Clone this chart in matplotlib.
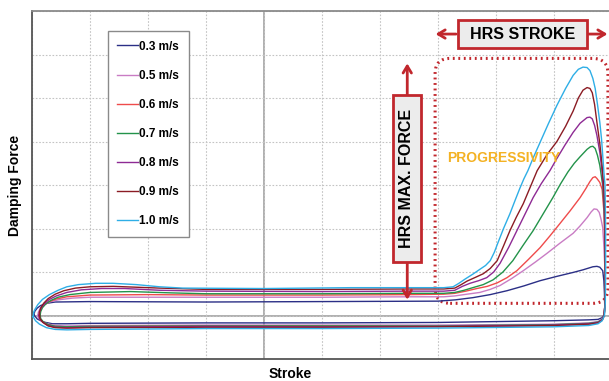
import matplotlib
matplotlib.use("Agg")
import matplotlib.pyplot as plt
from matplotlib.patches import Rectangle, FancyBboxPatch

plt.rcParams['font.family'] = ['Liberation Sans', 'DejaVu Sans']

# (stroke, force) loops, in grid units
loop_03 = [(-4.97, 0.02), (-4.95, 0.10), (-4.91, 0.17), (-4.85, 0.23), (-4.75, 0.28), (-4.6, 0.31), (-4.0, 0.32),
           (-2.0, 0.31), (0.0, 0.32), (2.0, 0.33), (2.30, 0.36), (2.60, 0.41), (2.90, 0.48), (3.19, 0.57),
           (3.48, 0.68), (3.76, 0.80), (4.05, 0.90), (4.33, 0.99), (4.50, 1.05), (4.67, 1.12), (4.74, 1.13),
           (4.79, 1.11), (4.84, 1.03), (4.86, 0.8), (4.87, 0.5), (4.875, 0.2), (4.865, 0.02), (4.83, -0.05),
           (4.76, -0.09), (4.6, -0.10), (4.0, -0.12), (2.0, -0.16), (0.0, -0.17), (-2.0, -0.17), (-4.0, -0.18),
           (-4.4, -0.19), (-4.65, -0.19), (-4.8, -0.15), (-4.91, -0.08), (-4.97, 0.02)]

loop_05 = [(-4.90, 0.0), (-4.89, 0.08), (-4.86, 0.16), (-4.80, 0.24), (-4.70, 0.31), (-4.55, 0.36), (-4.30, 0.40),
           (-4.0, 0.42), (-2.0, 0.42), (0.0, 0.42), (1.5, 0.43), (2.10, 0.43), (2.29, 0.45), (2.50, 0.49),
           (2.72, 0.53), (2.90, 0.60), (3.07, 0.69), (3.27, 0.85), (3.47, 1.03), (3.68, 1.23), (3.88, 1.43),
           (4.10, 1.66), (4.33, 1.89), (4.45, 2.06), (4.57, 2.25), (4.64, 2.38), (4.69, 2.45), (4.74, 2.44),
           (4.78, 2.37), (4.81, 2.22), (4.84, 2.02), (4.86, 1.6), (4.88, 1.0), (4.88, 0.3), (4.865, 0.0),
           (4.83, -0.08), (4.76, -0.14), (4.6, -0.17), (4.0, -0.2), (2.0, -0.22), (0.0, -0.22), (-2.0, -0.22),
           (-4.0, -0.23), (-4.4, -0.24), (-4.6, -0.23), (-4.74, -0.19), (-4.84, -0.12), (-4.89, -0.06), (-4.90, 0.0)]

loop_06 = [(-4.88, 0.0), (-4.87, 0.09), (-4.84, 0.17), (-4.78, 0.25), (-4.70, 0.32), (-4.58, 0.38), (-4.40, 0.43),
           (-4.0, 0.47), (-3.0, 0.48), (-2.0, 0.47), (0.0, 0.47), (1.5, 0.48), (2.10, 0.49), (2.29, 0.51),
           (2.48, 0.56), (2.67, 0.62), (2.85, 0.67), (3.02, 0.75), (3.19, 0.87), (3.36, 1.03), (3.56, 1.29),
           (3.76, 1.56), (3.93, 1.83), (4.10, 2.11), (4.28, 2.41), (4.45, 2.71), (4.55, 2.92), (4.62, 3.08),
           (4.67, 3.17), (4.71, 3.19), (4.74, 3.15), (4.79, 3.06), (4.83, 2.90), (4.86, 2.4), (4.88, 1.5),
           (4.885, 0.8), (4.88, 0.3), (4.865, 0.0), (4.83, -0.11), (4.76, -0.17), (4.6, -0.2), (4.0, -0.23),
           (2.0, -0.25), (0.0, -0.24), (-2.0, -0.24), (-4.0, -0.25), (-4.4, -0.26), (-4.6, -0.25), (-4.73, -0.21),
           (-4.82, -0.14), (-4.87, -0.07), (-4.88, 0.0)]

loop_07 = [(-4.86, 0.0), (-4.85, 0.09), (-4.82, 0.18), (-4.76, 0.27), (-4.67, 0.35), (-4.55, 0.42), (-4.35, 0.48),
           (-4.0, 0.53), (-3.3, 0.55), (-2.6, 0.52), (-2.0, 0.50), (0.0, 0.50), (1.5, 0.51), (2.10, 0.51),
           (2.29, 0.53), (2.45, 0.58), (2.60, 0.64), (2.78, 0.71), (2.95, 0.82), (3.12, 1.00), (3.29, 1.26),
           (3.46, 1.60), (3.64, 1.95), (3.81, 2.33), (3.98, 2.71), (4.11, 3.02), (4.24, 3.30), (4.35, 3.50),
           (4.45, 3.65), (4.57, 3.82), (4.63, 3.88), (4.67, 3.89), (4.71, 3.84), (4.75, 3.68), (4.79, 3.45),
           (4.84, 2.99), (4.87, 2.3), (4.885, 1.0), (4.88, 0.3), (4.865, 0.0), (4.83, -0.09), (4.76, -0.15),
           (4.6, -0.18), (4.0, -0.21), (2.0, -0.24), (0.0, -0.24), (-2.0, -0.24), (-4.0, -0.25), (-4.4, -0.26),
           (-4.6, -0.25), (-4.72, -0.21), (-4.81, -0.14), (-4.85, -0.07), (-4.86, 0.0)]

loop_08 = [(-4.88, 0.0), (-4.87, 0.09), (-4.84, 0.18), (-4.78, 0.28), (-4.70, 0.37), (-4.58, 0.45), (-4.40, 0.53),
           (-4.15, 0.59), (-3.8, 0.62), (-3.4, 0.62), (-2.8, 0.58), (-2.0, 0.56), (0.0, 0.55), (1.5, 0.56),
           (2.10, 0.56), (2.29, 0.58), (2.42, 0.67), (2.55, 0.74), (2.70, 0.80), (2.84, 0.87), (2.96, 1.00),
           (3.07, 1.20), (3.22, 1.57), (3.36, 1.95), (3.50, 2.33), (3.64, 2.71), (3.78, 3.03), (3.93, 3.33),
           (4.05, 3.61), (4.19, 3.92), (4.33, 4.21), (4.45, 4.42), (4.57, 4.55), (4.62, 4.56), (4.66, 4.52),
           (4.70, 4.37), (4.74, 4.14), (4.79, 3.75), (4.83, 3.29), (4.86, 2.70), (4.88, 1.8), (4.885, 1.0),
           (4.88, 0.3), (4.865, 0.0), (4.83, -0.10), (4.76, -0.16), (4.6, -0.19), (4.0, -0.22), (2.0, -0.25),
           (0.0, -0.26), (-2.0, -0.25), (-4.0, -0.27), (-4.4, -0.28), (-4.6, -0.27), (-4.73, -0.23), (-4.82, -0.15),
           (-4.87, -0.07), (-4.88, 0.0)]

loop_09 = [(-4.87, 0.0), (-4.87, 0.08), (-4.85, 0.17), (-4.80, 0.28), (-4.72, 0.39), (-4.60, 0.49), (-4.45, 0.57),
           (-4.25, 0.63), (-4.0, 0.66), (-3.6, 0.67), (-3.2, 0.65), (-2.8, 0.63), (-2.0, 0.60), (0.0, 0.60),
           (1.5, 0.61), (2.10, 0.61), (2.29, 0.63), (2.40, 0.71), (2.50, 0.79), (2.65, 0.88), (2.78, 0.96),
           (2.90, 1.08), (3.02, 1.26), (3.13, 1.60), (3.24, 1.95), (3.35, 2.26), (3.47, 2.57), (3.59, 2.95),
           (3.71, 3.33), (3.88, 3.70), (4.05, 4.00), (4.20, 4.35), (4.33, 4.70), (4.42, 5.00), (4.50, 5.18),
           (4.57, 5.24), (4.62, 5.22), (4.66, 5.12), (4.70, 4.85), (4.74, 4.44), (4.79, 3.95), (4.83, 3.45),
           (4.86, 2.90), (4.88, 2.2), (4.885, 1.0), (4.88, 0.3), (4.865, 0.0), (4.83, -0.11), (4.76, -0.17),
           (4.6, -0.2), (4.0, -0.23), (2.0, -0.26), (0.0, -0.27), (-2.0, -0.27), (-4.0, -0.28), (-4.4, -0.29),
           (-4.6, -0.28), (-4.72, -0.24), (-4.81, -0.16), (-4.86, -0.08), (-4.87, 0.0)]

loop_10 = [(-4.98, -0.03), (-4.97, 0.08), (-4.95, 0.14), (-4.90, 0.25), (-4.82, 0.37), (-4.70, 0.48), (-4.55, 0.58),
           (-4.40, 0.66), (-4.20, 0.71), (-3.90, 0.74), (-3.60, 0.74), (-3.20, 0.71), (-2.80, 0.66), (-2.40, 0.63),
           (-1.0, 0.62), (0.5, 0.64), (1.5, 0.64), (2.10, 0.64), (2.26, 0.66), (2.36, 0.74), (2.47, 0.84),
           (2.60, 0.95), (2.72, 1.06), (2.82, 1.15), (2.90, 1.26), (2.97, 1.45), (3.03, 1.66), (3.13, 2.00),
           (3.24, 2.34), (3.33, 2.65), (3.41, 2.92), (3.48, 3.14), (3.55, 3.33), (3.65, 3.65), (3.76, 3.98),
           (3.90, 4.40), (4.05, 4.83), (4.20, 5.22), (4.33, 5.52), (4.42, 5.66), (4.50, 5.71), (4.57, 5.70),
           (4.62, 5.63), (4.67, 5.45), (4.71, 5.22), (4.75, 4.85), (4.79, 4.44), (4.82, 4.05), (4.84, 3.68),
           (4.86, 3.30), (4.88, 2.99), (4.89, 2.0), (4.89, 1.0), (4.885, 0.3), (4.87, 0.0), (4.83, -0.12),
           (4.76, -0.19), (4.6, -0.23), (4.0, -0.26), (2.0, -0.29), (0.0, -0.30), (-2.0, -0.30), (-4.0, -0.32),
           (-4.4, -0.33), (-4.6, -0.32), (-4.75, -0.28), (-4.87, -0.20), (-4.94, -0.12), (-4.98, -0.03)]

labels = ['0.3 m/s', '0.5 m/s', '0.6 m/s', '0.7 m/s', '0.8 m/s', '0.9 m/s', '1.0 m/s']
colors = ['#2b2f86', '#c97cc4', '#ef4b4b', '#23934a', '#8e2a94', '#8b1c24', '#2eaee6']
loops = [loop_03, loop_05, loop_06, loop_07, loop_08, loop_09, loop_10]

red = '#c1272d'

fig = plt.figure(figsize=(6.09, 3.81), dpi=100)
ax = fig.add_axes([32 / 609, 1 - 359 / 381, 580 / 609, 348 / 381])
ax.set_xlim(-5, 5)
ax.set_ylim(-1, 7)
ax.set_xticks(range(-5, 6))
ax.set_yticks(range(-1, 8))
ax.tick_params(length=0, labelbottom=False, labelleft=False)
ax.grid(True, color='#c4c4c4', linestyle=(0, (1.5, 1.5)), linewidth=0.8)
ax.axvline(-1, color='#9a9a9a', lw=1.1, zorder=1)
ax.axhline(0, color='#9a9a9a', lw=1.1, zorder=1)
for s in ax.spines.values():
    s.set_color('#555555')
    s.set_linewidth(1.3)
ax.spines['top'].set_color('#8a8a8a')

for loop, c, lab in zip(loops, colors, labels):
    st = [p[0] for p in loop]
    fo = [p[1] for p in loop]
    ax.plot(st, fo, color=c, lw=1.0, label=lab, zorder=3)

leg = ax.legend(loc='upper left', bbox_to_anchor=(0.131, 0.942), fancybox=False, edgecolor='#8a8a8a',
                framealpha=1, prop={'weight': 'bold', 'size': 8.5}, labelspacing=1.45, handlelength=1.75,
                handletextpad=0.1, borderpad=0.8, borderaxespad=0)
leg.get_frame().set_linewidth(1.0)

# dotted region
box = FancyBboxPatch((1.95, 0.28), 2.98, 5.63, boxstyle='round,pad=0,rounding_size=0.26',
                     mutation_aspect=58 / 43.5, fill=False, edgecolor=red, lw=2.2,
                     linestyle=(0, (0.6, 1.2)), zorder=2, clip_on=False)
ax.add_patch(box)

# HRS STROKE
ax.annotate('', xy=(1.91, 6.47), xytext=(2.36, 6.47),
            arrowprops=dict(arrowstyle='->,head_length=0.5,head_width=0.3', color=red, lw=2), zorder=5)
ax.annotate('', xy=(4.97, 6.47), xytext=(4.55, 6.47), annotation_clip=False,
            arrowprops=dict(arrowstyle='->,head_length=0.5,head_width=0.3', color=red, lw=2), zorder=5)
ax.add_patch(Rectangle((2.34, 6.14), 2.23, 0.66, facecolor='#ececec', edgecolor=red, lw=2, zorder=6))
ax.text(3.455, 6.47, 'HRS STROKE', ha='center', va='center', fontsize=11.5, fontweight='bold', zorder=7)

# HRS MAX. FORCE
ax.annotate('', xy=(1.47, 5.86), xytext=(1.47, 0.30),
            arrowprops=dict(arrowstyle='<->,head_length=0.5,head_width=0.3', color=red, lw=2), zorder=5)
ax.add_patch(Rectangle((1.22, 1.22), 0.49, 3.86, facecolor='#ececec', edgecolor=red, lw=2, zorder=6))
ax.text(1.465, 3.15, 'HRS MAX. FORCE', ha='center', va='center', rotation=90, fontsize=11.5,
        fontweight='bold', zorder=7)

ax.text(2.16, 3.61, 'PROGRESSIVITY', ha='left', va='center', color='#f4b223', fontsize=10,
        fontweight='bold', zorder=8)

fig.text(15 / 609, 1 - 185 / 381, 'Damping Force', rotation=90, ha='center', va='center',
         fontsize=10, fontweight='bold')
fig.text(290 / 609, 1 - 374 / 381, 'Stroke', ha='center', va='center', fontsize=10, fontweight='bold')

fig.savefig('out.png', dpi=100)
